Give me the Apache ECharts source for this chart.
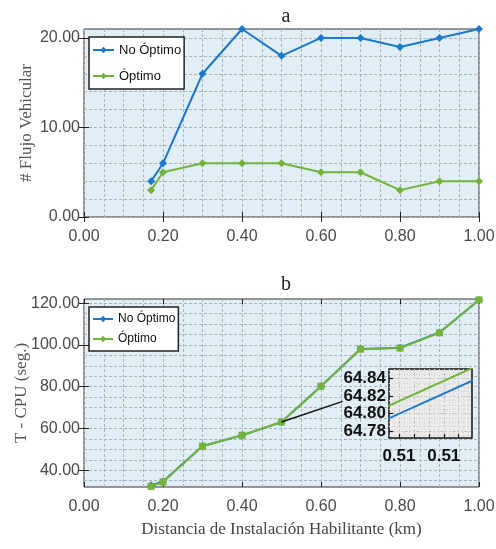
<!DOCTYPE html>
<html>
<head>
<meta charset="utf-8">
<script src="https://cdn.jsdelivr.net/npm/echarts@6/dist/echarts.min.js"></script>
<style>
html,body{margin:0;padding:0;background:#fff;}
#c{width:496px;height:549px;}
</style>
</head>
<body>
<div id="c"></div>
<script>
// ---- data ----
const distancias = [0.17, 0.2, 0.3, 0.4, 0.5, 0.6, 0.7, 0.8, 0.9, 1.0];
const flujoNoOptimo = [4, 6, 16, 21, 18, 20, 20, 19, 20, 21];
const flujoOptimo = [3, 5, 6, 6, 6, 5, 5, 3, 4, 4];
const cpuNoOptimo = [32.8, 34.6, 51.6, 56.7, 63.08, 80.26, 98.1, 98.7, 106.0, 121.5];
const cpuOptimo = [32.3, 34.4, 51.5, 56.8, 63.095, 80.27, 98.0, 98.5, 105.8, 121.6];
const connectorPts = [[0.5, 63.1], [0.655, 73]];

// tick values
const xGridTicks = [0,0.05,0.1,0.15,0.2,0.25,0.3,0.35,0.4,0.45,0.5,0.55,0.6,0.65,0.7,0.75,0.8,0.85,0.9,0.95,1.0];
const xMajorTicks = [0, 0.2, 0.4, 0.6, 0.8, 1.0];
const flujoGridTicks = [0,2,4,6,8,10,12,14,16,18,20];
const flujoMajorTicks = [0, 10, 20];
const cpuGridTicks = [35,40,45,50,55,60,65,70,75,80,85,90,95,100,105,110,115,120];
const cpuMajorTicks = [40, 60, 80, 100, 120];
const insetXTicks = [0.51001, 0.510055, 0.5101, 0.510145, 0.51019];
const insetXLabels = [0.51001, 0.510145];
const insetYTicks = [64.78, 64.80, 64.82, 64.84];
const insetXFine = [0.509995,0.51001,0.510025,0.51004,0.510055,0.51007,0.510085,0.5101,0.510115,0.51013,0.510145,0.51016,0.510175,0.51019,0.510205,0.51022];
const insetYFine = [64.775,64.78,64.785,64.79,64.795,64.80,64.805,64.81,64.815,64.82,64.825,64.83,64.835,64.84,64.845,64.85];

const zip = (xs, ys) => xs.map((x, i) => [x, ys[i]]);

const BLUE = '#1b78cc';
const GREEN = '#74b33a';
const SANS = '"Liberation Sans","Arimo",Arial,sans-serif';
const tickFont = {fontFamily: SANS, fontSize: 16, color: '#4a4a4a'};
const serif = '"Liberation Serif","DejaVu Serif",serif';
const gridLineStyle = {color: '#a9b3b9', width: 1, type: [3, 2]};

const grids = [
  {left: 84, top: 29, width: 395, height: 188, show: true, backgroundColor: '#e1eef6', borderColor: '#333', borderWidth: 1, containLabel: false, outerBoundsMode: 'none'},
  {left: 84, top: 299, width: 395, height: 188, show: true, backgroundColor: '#e1eef6', borderColor: '#333', borderWidth: 1, containLabel: false, outerBoundsMode: 'none'},
  {left: 389, top: 369, width: 83, height: 69, show: true, backgroundColor: '#ebebeb', borderColor: '#111', borderWidth: 1.5, z: 3, containLabel: false, outerBoundsMode: 'none'}
];

function mainX(gi, withName) {
  return [
    {type: 'value', gridIndex: gi, min: 0, max: 1, position: 'bottom',
     axisLine: {show: false},
     axisTick: {show: false, customValues: xGridTicks},
     splitLine: {show: true, lineStyle: gridLineStyle},
     axisLabel: Object.assign({customValues: xMajorTicks, margin: 12, formatter: v => v.toFixed(2)}, tickFont),
     name: withName ? 'Distancia de Instalación Habilitante (km)' : '',
     nameLocation: 'middle', nameGap: 34, nameMoveOverlap: false,
     nameTextStyle: {fontFamily: serif, fontSize: 17, color: '#444'}},
    {type: 'value', gridIndex: gi, min: 0, max: 1, position: 'bottom',
     axisLine: {show: false}, splitLine: {show: false}, axisLabel: {show: false},
     axisTick: {show: true, inside: true, length: 5, customValues: xMajorTicks, lineStyle: {color: '#222', width: 1}}},
    {type: 'value', gridIndex: gi, min: 0, max: 1, position: 'top',
     axisLine: {show: false}, splitLine: {show: false}, axisLabel: {show: false},
     axisTick: {show: true, inside: true, length: 5, customValues: xMajorTicks, lineStyle: {color: '#222', width: 1}}}
  ];
}
function mainY(gi, mn, mx, gridT, majorT, name, gap) {
  return [
    {type: 'value', gridIndex: gi, min: mn, max: mx, position: 'left',
     axisLine: {show: false},
     axisTick: {show: false, customValues: gridT},
     splitLine: {show: true, lineStyle: gridLineStyle},
     axisLabel: Object.assign({customValues: majorT, margin: 4, formatter: v => v.toFixed(2)}, tickFont),
     name: name, nameLocation: 'middle', nameGap: gap, nameMoveOverlap: false,
     nameTextStyle: {fontFamily: serif, fontSize: 17, color: '#555'}},
    {type: 'value', gridIndex: gi, min: mn, max: mx, position: 'left',
     axisLine: {show: false}, splitLine: {show: false}, axisLabel: {show: false},
     axisTick: {show: true, inside: true, length: 5, customValues: majorT, lineStyle: {color: '#222', width: 1}}},
    {type: 'value', gridIndex: gi, min: mn, max: mx, position: 'right',
     axisLine: {show: false}, splitLine: {show: false}, axisLabel: {show: false},
     axisTick: {show: true, inside: true, length: 5, customValues: majorT, lineStyle: {color: '#222', width: 1}}}
  ];
}

const insetXMin = 0.50998, insetXMax = 0.51023, insetYMin = 64.772, insetYMax = 64.851;
const fineLine = {show: true, lineStyle: {color: '#d2d2d2', width: 1, type: [1, 2]}};

const xAxes = [].concat(mainX(0, false), mainX(1, true), [
  {type: 'value', gridIndex: 2, min: insetXMin, max: insetXMax, position: 'bottom', z: 3,
   axisLine: {show: false},
   axisTick: {show: true, inside: true, length: 4, customValues: insetXTicks, lineStyle: {color: '#111', width: 1.2}},
   splitLine: {show: true, lineStyle: {color: '#bdbdbd', width: 1, type: [2, 2]}},
   axisLabel: {customValues: insetXLabels, margin: 10, formatter: v => v.toFixed(2),
     fontFamily: SANS, fontWeight: 'bold', fontSize: 17, color: '#111'}},
  {type: 'value', gridIndex: 2, min: insetXMin, max: insetXMax, position: 'top', z: 3,
   axisLine: {show: false}, axisLabel: {show: false},
   axisTick: {show: false, customValues: insetXFine}, splitLine: fineLine}
]);
const yAxes = [].concat(
  mainY(0, 0, 21, flujoGridTicks, flujoMajorTicks, '# Flujo Vehicular', 49),
  mainY(1, 32, 122, cpuGridTicks, cpuMajorTicks, 'T - CPU (seg.)', 54),
  [{type: 'value', gridIndex: 2, min: insetYMin, max: insetYMax, position: 'left', z: 3,
    axisLine: {show: false},
    axisTick: {show: true, inside: true, length: 4, customValues: insetYTicks, lineStyle: {color: '#111', width: 1.2}},
    splitLine: {show: true, lineStyle: {color: '#bdbdbd', width: 1, type: [2, 2]}},
    axisLabel: {customValues: insetYTicks, margin: 3, formatter: v => v.toFixed(2),
      fontFamily: SANS, fontWeight: 'bold', fontSize: 17, color: '#111'}},
   {type: 'value', gridIndex: 2, min: insetYMin, max: insetYMax, position: 'right', z: 3,
    axisLine: {show: false}, axisLabel: {show: false},
    axisTick: {show: false, customValues: insetYFine}, splitLine: fineLine}]
);

function legend(top, fs, lh, gap, iw) {
  return {data: ['No Óptimo', 'Óptimo'], orient: 'vertical', left: 89, top: top,
    backgroundColor: '#fff', borderColor: '#222', borderWidth: 1.5, borderRadius: 0,
    padding: [5, 3, 5, 3], itemGap: gap, itemWidth: iw, itemHeight: 8,
    textStyle: {fontFamily: SANS, fontSize: fs, lineHeight: lh, color: '#111'}, selectedMode: false};
}

const lineSeries = (name, xi, yi, data, color, sym, size, z) => ({
  name: name, type: 'line', xAxisIndex: xi, yAxisIndex: yi, data: data,
  symbol: sym, symbolSize: size, showSymbol: sym !== 'none', z: z || 2,
  lineStyle: {color: color, width: 2}, itemStyle: {color: color}, animation: false
});

const option = {
  animation: false,
  title: [
    {text: 'a', left: 281, top: 2, textAlign: 'center', textStyle: {fontFamily: serif, fontWeight: 'normal', fontSize: 20, color: '#222'}},
    {text: 'b', left: 281, top: 270, textAlign: 'center', textStyle: {fontFamily: serif, fontWeight: 'normal', fontSize: 20, color: '#222'}}
  ],
  grid: grids,
  xAxis: xAxes,
  yAxis: yAxes,
  legend: [legend(37, 13, 16, 10, 21), legend(307, 12, 14, 6, 20)],
  series: [
    lineSeries('No Óptimo', 0, 0, zip(distancias, flujoNoOptimo), BLUE, 'diamond', 8),
    lineSeries('Óptimo', 0, 0, zip(distancias, flujoOptimo), GREEN, 'diamond', 8),
    lineSeries('No Óptimo', 3, 3, zip(distancias, cpuNoOptimo), BLUE, 'diamond', 8),
    lineSeries('Óptimo', 3, 3, zip(distancias, cpuOptimo), GREEN, 'rect', 7),
    {type: 'line', xAxisIndex: 3, yAxisIndex: 3, data: connectorPts, symbol: 'none',
     lineStyle: {color: '#111', width: 1.5}, z: 3, silent: true},
    lineSeries('No Óptimo', 6, 6, zip(distancias, cpuNoOptimo), BLUE, 'none', 0, 5),
    lineSeries('Óptimo', 6, 6, zip(distancias, cpuOptimo), GREEN, 'none', 0, 5)
  ]
};

const chart = echarts.init(document.getElementById('c'), null, {renderer: 'canvas'});
chart.setOption(option);
</script>
</body>
</html>
